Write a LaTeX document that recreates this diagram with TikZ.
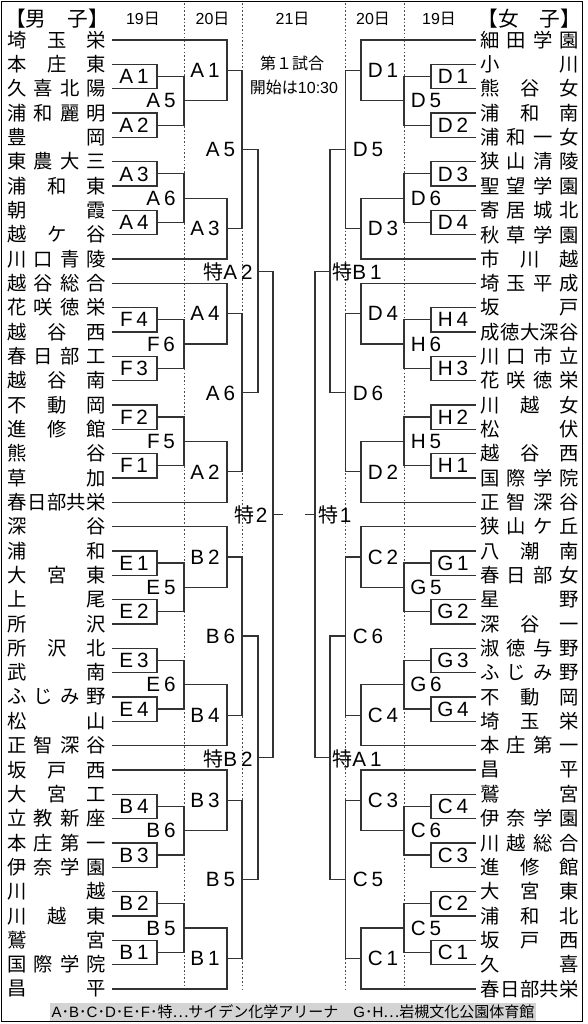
\documentclass[tikz,border=0pt]{standalone}
\usepackage{fontspec}
\setmainfont{Noto Sans CJK JP}
\newfontfamily\lat{Liberation Sans}
\newfontfamily\jp{Noto Sans CJK JP}
\usetikzlibrary{calc}
\def\spr#1#2\relax{#1\sprB#2\relax}
\def\sprB#1{\ifx#1\relax\else\hfill#1\expandafter\sprB\fi}
\def\labsplit#1#2{#1\hspace{2.8pt}#2}
\newcommand\bkt[4]{%
  \path let \p1=(#3), \p2=(#4) in ({#2*0.75pt},{(\y1+\y2)/2}) coordinate (#1);
  \draw[br] (#3) -| (#1) |- (#4);}
\newcommand\mlab[3]{\node[lab] (t#2) at (#1,0 |- #2) {#3};}
\newcommand\toku{{\jp\fontsize{15}{16}\selectfont 特}}
\begin{document}
\begin{tikzpicture}[x=0.75pt,y=-0.75pt,
  br/.style={line width=0.95pt, draw=black!80},
  dotline/.style={line width=0.6pt, draw=black!70, dash pattern=on 1.2pt off 1.6pt},
  team/.style={inner sep=0pt, anchor=west, font=\fontsize{14.5}{15}\selectfont},
  lab/.style={inner sep=0pt, text depth=0pt, font=\lat\fontsize{15.5}{16}\selectfont},
  hd/.style={inner sep=0pt, font=\fontsize{15.5}{16}\selectfont},
  datebox/.style={inner sep=0pt, font=\fontsize{12}{13}\selectfont},
  captionbox/.style={inner sep=0pt, fill=black!17, minimum width=364.5pt, minimum height=13.5pt, font=\fontsize{11.25}{12}\selectfont}]
\useasboundingbox (0,0) rectangle (588,1024);
% dotted day separators
\foreach \x [count=\k] in {184,242,345.5,404}{
  \coordinate (dt\k) at (\x,3); \coordinate (db\k) at (\x,989);
  \draw[dotline] (dt\k) -- (db\k);}
% headers
\node[hd] (hL) at (57,18.5) {【男　子】};
\node[datebox] (d19L) at (143,18.5) {{\lat 19}日};
\node[datebox] (d20L) at (212.5,18.5) {{\lat 20}日};
\node[datebox] (d21) at (292.5,18.5) {{\lat 21}日};
\node[datebox] (d20R) at (373,18.5) {{\lat 20}日};
\node[datebox] (d19R) at (439,18.5) {{\lat 19}日};
\node[hd] (hR) at (529,18.5) {【女　子】};
\node[datebox] (n1) at (292,63) {第１試合};
\node[datebox] (n2) at (294,87.5) {開始は{\lat 10:30}};
% teams
\foreach \n [count=\i from 0] in {埼玉栄,本庄東,久喜北陽,浦和麗明,豊岡,東農大三,浦和東,朝霞,越ケ谷,川口青陵,越谷総合,花咲徳栄,越谷西,春日部工,越谷南,不動岡,進修館,熊谷,草加,春日部共栄,深谷,浦和,大宮東,上尾,所沢,所沢北,武南,ふじみ野,松山,正智深谷,坂戸西,大宮工,立教新座,本庄第一,伊奈学園,川越,川越東,鷲宮,国際学院,昌平}{
  \node[team] (L\i) at (7.5,{40+24.33*\i}) {\makebox[73.5pt][s]{\expandafter\spr\n\relax}};
  \coordinate (l\i) at (112,{40+24.33*\i});}
\foreach \n [count=\i from 0] in {細田学園,小川,熊谷女,浦和南,浦和一女,狭山清陵,聖望学園,寄居城北,秋草学園,市川越,埼玉平成,坂戸,成徳大深谷,川口市立,花咲徳栄,川越女,松伏,越谷西,国際学院,正智深谷,狭山ケ丘,八潮南,春日部女,星野,深谷一,淑徳与野,ふじみ野,不動岡,埼玉栄,本庄第一,昌平,鷲宮,伊奈学園,川越総合,進修館,大宮東,浦和北,坂戸西,久喜,春日部共栄}{
  \node[team] (R\i) at (480.5,{40+24.33*\i}) {\makebox[73.5pt][s]{\expandafter\spr\n\relax}};
  \coordinate (r\i) at (476,{40+24.33*\i});}
% left bracket
\bkt{m19A1}{157}{l1}{l2}
\bkt{m19A2}{157}{l3}{l4}
\bkt{m19A5}{184}{m19A1}{m19A2}
\bkt{m20A1}{227}{l0}{m19A5}
\bkt{m19A3}{157}{l5}{l6}
\bkt{m19A4}{157}{l7}{l8}
\bkt{m19A6}{184}{m19A3}{m19A4}
\bkt{m20A3}{227}{m19A6}{l9}
\bkt{m20A5}{242}{m20A1}{m20A3}
\bkt{m19F4}{157}{l11}{l12}
\bkt{m19F3}{157}{l13}{l14}
\bkt{m19F6}{184}{m19F4}{m19F3}
\bkt{m20A4}{227}{l10}{m19F6}
\bkt{m19F2}{157}{l15}{l16}
\bkt{m19F1}{157}{l17}{l18}
\bkt{m19F5}{184}{m19F2}{m19F1}
\bkt{m20A2}{227}{m19F5}{l19}
\bkt{m20A6}{242}{m20A4}{m20A2}
\bkt{mTA2}{258}{m20A5}{m20A6}
\bkt{m19E1}{157}{l21}{l22}
\bkt{m19E2}{157}{l23}{l24}
\bkt{m19E5}{184}{m19E1}{m19E2}
\bkt{m20B2}{227}{l20}{m19E5}
\bkt{m19E3}{157}{l25}{l26}
\bkt{m19E4}{157}{l27}{l28}
\bkt{m19E6}{184}{m19E3}{m19E4}
\bkt{m20B4}{227}{m19E6}{l29}
\bkt{m20B6}{242}{m20B2}{m20B4}
\bkt{m19B4}{157}{l31}{l32}
\bkt{m19B3}{157}{l33}{l34}
\bkt{m19B6}{184}{m19B4}{m19B3}
\bkt{m20B3}{227}{l30}{m19B6}
\bkt{m19B2}{157}{l35}{l36}
\bkt{m19B1}{157}{l37}{l38}
\bkt{m19B5}{184}{m19B2}{m19B1}
\bkt{m20B1}{227}{m19B5}{l39}
\bkt{m20B5}{242}{m20B3}{m20B1}
\bkt{mTB2}{258}{m20B6}{m20B5}
\bkt{mT2}{273}{mTA2}{mTB2}
\coordinate (T2e) at (283,0 |- mT2);
\draw[br] (mT2) -- (T2e);
% right bracket
\bkt{m19D1}{431}{r1}{r2}
\bkt{m19D2}{431}{r3}{r4}
\bkt{m19D5}{404}{m19D1}{m19D2}
\bkt{m20D1}{361}{r0}{m19D5}
\bkt{m19D3}{431}{r5}{r6}
\bkt{m19D4}{431}{r7}{r8}
\bkt{m19D6}{404}{m19D3}{m19D4}
\bkt{m20D3}{361}{m19D6}{r9}
\bkt{m20D5}{345.5}{m20D1}{m20D3}
\bkt{m19H4}{431}{r11}{r12}
\bkt{m19H3}{431}{r13}{r14}
\bkt{m19H6}{404}{m19H4}{m19H3}
\bkt{m20D4}{361}{r10}{m19H6}
\bkt{m19H2}{431}{r15}{r16}
\bkt{m19H1}{431}{r17}{r18}
\bkt{m19H5}{404}{m19H2}{m19H1}
\bkt{m20D2}{361}{m19H5}{r19}
\bkt{m20D6}{345.5}{m20D4}{m20D2}
\bkt{mTB1}{330}{m20D5}{m20D6}
\bkt{m19G1}{431}{r21}{r22}
\bkt{m19G2}{431}{r23}{r24}
\bkt{m19G5}{404}{m19G1}{m19G2}
\bkt{m20C2}{361}{r20}{m19G5}
\bkt{m19G3}{431}{r25}{r26}
\bkt{m19G4}{431}{r27}{r28}
\bkt{m19G6}{404}{m19G3}{m19G4}
\bkt{m20C4}{361}{m19G6}{r29}
\bkt{m20C6}{345.5}{m20C2}{m20C4}
\bkt{m19C4}{431}{r31}{r32}
\bkt{m19C3}{431}{r33}{r34}
\bkt{m19C6}{404}{m19C4}{m19C3}
\bkt{m20C3}{361}{r30}{m19C6}
\bkt{m19C2}{431}{r35}{r36}
\bkt{m19C1}{431}{r37}{r38}
\bkt{m19C5}{404}{m19C2}{m19C1}
\bkt{m20C1}{361}{m19C5}{r39}
\bkt{m20C5}{345.5}{m20C3}{m20C1}
\bkt{mTA1}{330}{m20C6}{m20C5}
\bkt{mT1}{315}{mTB1}{mTA1}
\coordinate (T1e) at (305,0 |- mT1);
\draw[br] (mT1) -- (T1e);
% left labels
\foreach \m/\t in {m19A1/A1,m19A2/A2,m19A3/A3,m19A4/A4,m19F4/F4,m19F3/F3,m19F2/F2,m19F1/F1,m19E1/E1,m19E2/E2,m19E3/E3,m19E4/E4,m19B4/B4,m19B3/B3,m19B2/B2,m19B1/B1}{\mlab{134}{\m}{\expandafter\labsplit\t}}
\foreach \m/\t in {m19A5/A5,m19A6/A6,m19F6/F6,m19F5/F5,m19E5/E5,m19E6/E6,m19B6/B6,m19B5/B5}{\mlab{161}{\m}{\expandafter\labsplit\t}}
\foreach \m/\t in {m20A1/A1,m20A3/A3,m20A4/A4,m20A2/A2,m20B2/B2,m20B4/B4,m20B3/B3,m20B1/B1}{\mlab{205}{\m}{\expandafter\labsplit\t}}
\foreach \m/\t in {m20A5/A5,m20A6/A6,m20B6/B6,m20B5/B5}{\mlab{220.5}{\m}{\expandafter\labsplit\t}}
\mlab{228}{mTA2}{\toku A\hspace{2.8pt}2}
\mlab{228}{mTB2}{\toku B\hspace{2.8pt}2}
\mlab{251}{mT2}{\toku\hspace{1pt}2}
% right labels
\foreach \m/\t in {m19D1/D1,m19D2/D2,m19D3/D3,m19D4/D4,m19H4/H4,m19H3/H3,m19H2/H2,m19H1/H1,m19G1/G1,m19G2/G2,m19G3/G3,m19G4/G4,m19C4/C4,m19C3/C3,m19C2/C2,m19C1/C1}{\mlab{453}{\m}{\expandafter\labsplit\t}}
\foreach \m/\t in {m19D5/D5,m19D6/D6,m19H6/H6,m19H5/H5,m19G5/G5,m19G6/G6,m19C6/C6,m19C5/C5}{\mlab{426}{\m}{\expandafter\labsplit\t}}
\foreach \m/\t in {m20D1/D1,m20D3/D3,m20D4/D4,m20D2/D2,m20C2/C2,m20C4/C4,m20C3/C3,m20C1/C1}{\mlab{383}{\m}{\expandafter\labsplit\t}}
\foreach \m/\t in {m20D5/D5,m20D6/D6,m20C6/C6,m20C5/C5}{\mlab{368}{\m}{\expandafter\labsplit\t}}
\mlab{357}{mTB1}{\toku B\hspace{2.8pt}1}
\mlab{357}{mTA1}{\toku A\hspace{2.8pt}1}
\mlab{335}{mT1}{\toku\hspace{1pt}1}
% caption band
\node[captionbox] (capt) at (293,1012) {{\lat A}･{\lat B}･{\lat C}･{\lat D}･{\lat E}･{\lat F}･特…サイデン化学アリーナ　{\lat G}･{\lat H}…岩槻文化公園体育館};
% frame
\draw[line width=1.1pt] (1.5,1.5) rectangle (582.5,1021.5);
\end{tikzpicture}
\end{document}
